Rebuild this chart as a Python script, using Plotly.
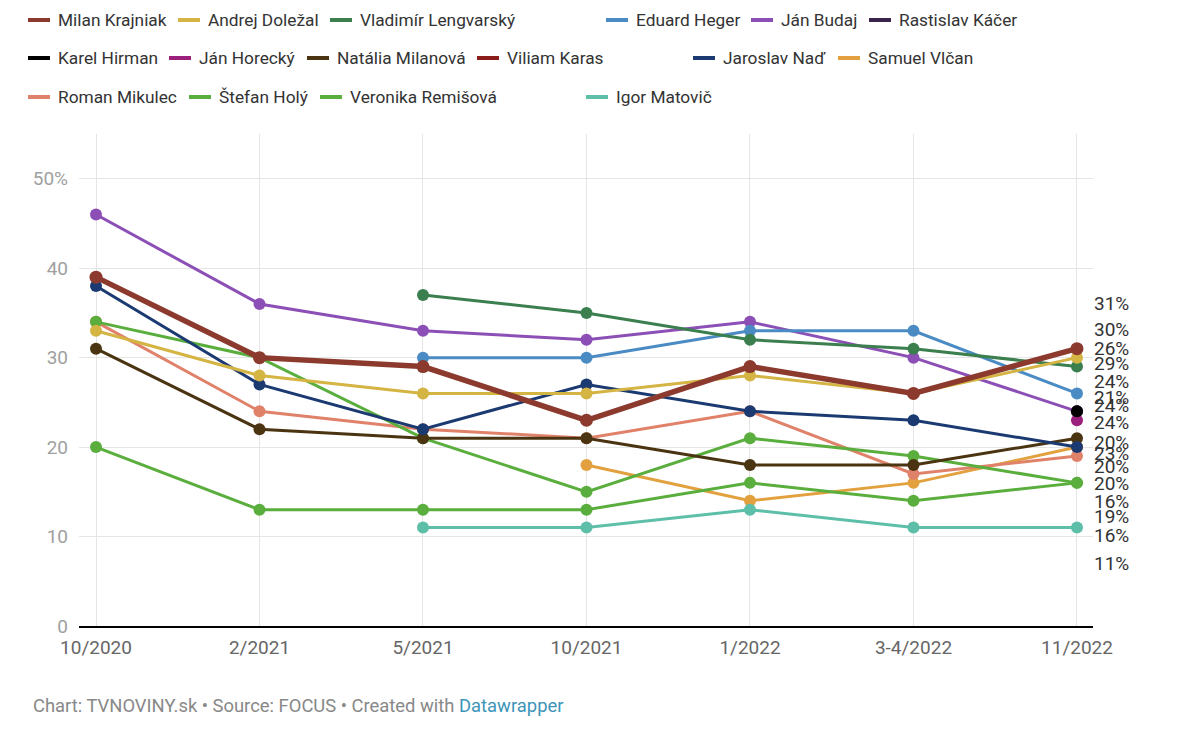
import plotly.graph_objects as go

# ---------------- data ----------------
periods = ["10/2020", "2/2021", "5/2021", "10/2021", "1/2022", "3-4/2022", "11/2022"]

names = ["Milan Krajniak", "Andrej Doležal", "Vladimír Lengvarský", "Eduard Heger",
         "Ján Budaj", "Rastislav Káčer", "Karel Hirman", "Ján Horecký",
         "Natália Milanová", "Viliam Karas", "Jaroslav Naď", "Samuel Vlčan",
         "Roman Mikulec", "Štefan Holý", "Veronika Remišová", "Igor Matovič"]

krajniak    = [39, 30, 29, 23, 29, 26, 31]
dolezal     = [33, 28, 26, 26, 28, 26, 30]
lengvarsky  = [None, None, 37, 35, 32, 31, 29]
heger       = [None, None, 30, 30, 33, 33, 26]
budaj       = [46, 36, 33, 32, 34, 30, 24]
kacer       = [None, None, None, None, None, None, 24]
hirman      = [None, None, None, None, None, None, 24]
horecky     = [None, None, None, None, None, None, 23]
milanova    = [31, 22, 21, 21, 18, 18, 21]
karas       = [None, None, None, None, None, None, 20]
nad         = [38, 27, 22, 27, 24, 23, 20]
vlcan       = [None, None, None, 18, 14, 16, 20]
mikulec     = [34, 24, 22, 21, 24, 17, 19]
holy        = [20, 13, 13, 13, 16, 14, 16]
remisova    = [34, 30, 21, 15, 21, 19, 16]
matovic     = [None, None, 11, 11, 13, 11, 11]

series_values = [krajniak, dolezal, lengvarsky, heger, budaj, kacer, hirman, horecky,
                 milanova, karas, nad, vlcan, mikulec, holy, remisova, matovic]

y_tickvals = [0, 10, 20, 30, 40, 50]
y_ticktext = ["0", "10", "20", "30", "40", "50%"]

# ---------------- styles ----------------
colors = ["#8c3a2e", "#d4b443", "#3b7f4f", "#4a8bc4", "#8b4fb6", "#3a2349",
          "#000000", "#9b1f7d", "#4a3411", "#8b1c1c", "#1b3a72", "#e2a13e",
          "#e0826a", "#5aae3d", "#5aae3d", "#5ebfa9"]
widths = [5.5] + [3] * 15
# drawing order (first drawn = bottom)
draw_order = [5, 9, 11, 12, 13, 14, 15, 8, 10, 4, 3, 2, 1, 7, 6, 0]

# end-label placement (order of labels and their vertical positions, value units)
label_order = [0, 1, 3, 2, 4, 8, 5, 6, 10, 7, 11, 9, 13, 12, 14, 15]
label_y = [36.0, 33.1, 31.0, 29.4, 27.3, 25.6, 24.7, 22.7, 20.5, 19.3, 17.8, 15.9,
           13.9, 12.2, 10.1, 7.0]

# legend layout (pixel positions in the reference picture)
legend_rows_px = [20, 58, 97]
legend_items = [  # (series index, row, symbol-left px)
    (0, 0, 28), (1, 0, 178), (2, 0, 330), (3, 0, 606), (4, 0, 751), (5, 0, 869),
    (6, 1, 28), (7, 1, 169), (8, 1, 307), (9, 1, 477), (10, 1, 693), (11, 1, 838),
    (12, 2, 28), (13, 2, 189), (14, 2, 320), (15, 2, 586),
]

W, H = 1200, 740
OFF = 8  # page body margin of the html page
ML, MT = 79 - OFF, 134 - OFF
PW, PH = 1014, 492
MR, MB = W - ML - PW, H - MT - PH


def px_x(px):
    return (px - OFF - ML) / PW


def px_y(py):
    return (MT + PH - (py - OFF)) / PH


FONT = "Roboto"

fig = go.Figure()
for i in draw_order:
    fig.add_trace(go.Scatter(
        x=periods, y=series_values[i], name=names[i],
        mode="lines+markers",
        line=dict(color=colors[i], width=widths[i]),
        marker=dict(color=colors[i], size=13 if i == 0 else 12),
        connectgaps=False, showlegend=False,
        hovertemplate="%{x}: %{y}%<extra>" + names[i] + "</extra>",
    ))

# end labels
for idx, yv in zip(label_order, label_y):
    last = series_values[idx][-1]
    fig.add_annotation(
        x=len(periods) - 1, y=yv, xref="x", yref="y",
        text=f"{last}%", showarrow=False, xanchor="left", yanchor="middle",
        xshift=15, font=dict(family=FONT, size=19, color="#333333"),
    )

# manual legend
for idx, row, sx in legend_items:
    yp = px_y(legend_rows_px[row])
    fig.add_shape(type="line", xref="paper", yref="paper",
                  x0=px_x(sx), x1=px_x(sx + 22), y0=yp, y1=yp,
                  line=dict(color=colors[idx], width=4))
    fig.add_annotation(x=px_x(sx + 28), y=yp, xref="paper", yref="paper",
                       text=names[idx], showarrow=False, xanchor="left",
                       yanchor="middle",
                       font=dict(family=FONT, size=17.3, color="#333333"))

# footer
fig.add_annotation(
    x=px_x(31), y=px_y(705), xref="paper", yref="paper", showarrow=False,
    xanchor="left", yanchor="middle",
    text="Chart: TVNOVINY.sk • Source: FOCUS • Created with "
         "<span style='color:#3d95b8'>Datawrapper</span>",
    font=dict(family=FONT, size=18.4, color="#888888"),
)

fig.update_layout(
    width=W, height=H, autosize=False,
    margin=dict(l=ML, r=MR, t=MT, b=MB),
    plot_bgcolor="white", paper_bgcolor="white",
    showlegend=False,
    font=dict(family=FONT),
    xaxis=dict(
        type="category", range=[-0.104, 6.098],
        showgrid=True, gridcolor="#e5e5e5", gridwidth=1,
        showline=True, linecolor="#000000", linewidth=2,
        ticks="", ticklabelstandoff=3,
        tickfont=dict(family=FONT, size=19, color="#666666"),
        zeroline=False,
    ),
    yaxis=dict(
        range=[0, 55], tickvals=y_tickvals, ticktext=y_ticktext,
        showgrid=True, gridcolor="#e5e5e5", gridwidth=1,
        zeroline=False, showline=False, ticks="", ticklabelstandoff=10,
        tickfont=dict(family=FONT, size=19, color="#a0a0a0"),
    ),
)

fig.write_html("out.html")
